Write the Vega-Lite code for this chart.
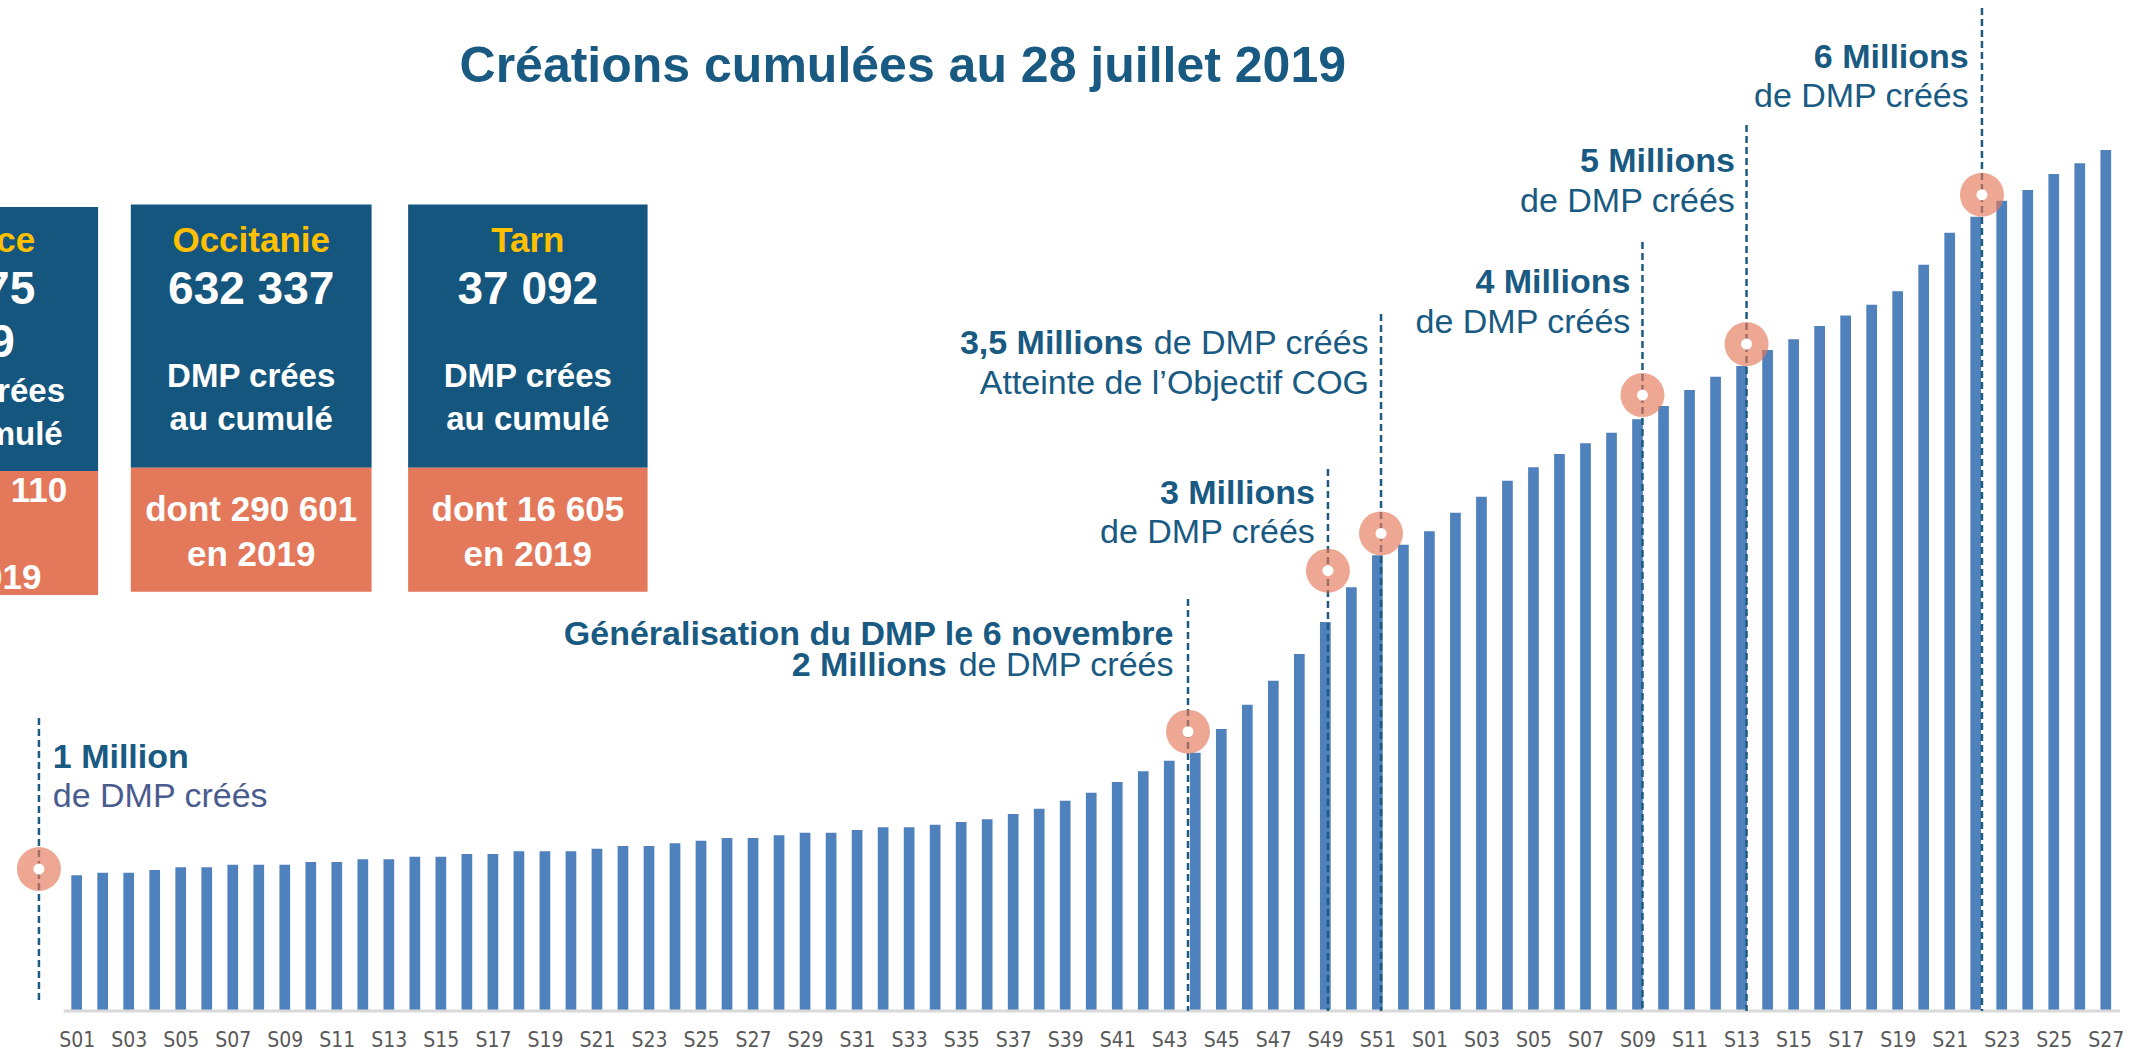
{
  "$schema": "https://vega.github.io/schema/vega-lite/v6.json",
  "width": 2131,
  "height": 1011,
  "autosize": "none",
  "padding": {"left": 0, "right": 0, "top": 0, "bottom": 42},
  "background": "#ffffff",
  "config": {"view": {"stroke": null}},
  "datasets": {
    "semaines": [
      {"x": 1, "y": 0.998, "annee": 2018}, {"x": 2, "y": 1.017, "annee": 2018}, {"x": 3, "y": 1.017, "annee": 2018}, {"x": 4, "y": 1.037, "annee": 2018},
      {"x": 5, "y": 1.057, "annee": 2018}, {"x": 6, "y": 1.057, "annee": 2018}, {"x": 7, "y": 1.076, "annee": 2018}, {"x": 8, "y": 1.076, "annee": 2018},
      {"x": 9, "y": 1.076, "annee": 2018}, {"x": 10, "y": 1.096, "annee": 2018}, {"x": 11, "y": 1.096, "annee": 2018}, {"x": 12, "y": 1.115, "annee": 2018},
      {"x": 13, "y": 1.115, "annee": 2018}, {"x": 14, "y": 1.135, "annee": 2018}, {"x": 15, "y": 1.135, "annee": 2018}, {"x": 16, "y": 1.154, "annee": 2018},
      {"x": 17, "y": 1.154, "annee": 2018}, {"x": 18, "y": 1.174, "annee": 2018}, {"x": 19, "y": 1.174, "annee": 2018}, {"x": 20, "y": 1.174, "annee": 2018},
      {"x": 21, "y": 1.193, "annee": 2018}, {"x": 22, "y": 1.213, "annee": 2018}, {"x": 23, "y": 1.213, "annee": 2018}, {"x": 24, "y": 1.233, "annee": 2018},
      {"x": 25, "y": 1.252, "annee": 2018}, {"x": 26, "y": 1.272, "annee": 2018}, {"x": 27, "y": 1.272, "annee": 2018}, {"x": 28, "y": 1.292, "annee": 2018},
      {"x": 29, "y": 1.311, "annee": 2018}, {"x": 30, "y": 1.311, "annee": 2018}, {"x": 31, "y": 1.331, "annee": 2018}, {"x": 32, "y": 1.351, "annee": 2018},
      {"x": 33, "y": 1.351, "annee": 2018}, {"x": 34, "y": 1.370, "annee": 2018}, {"x": 35, "y": 1.390, "annee": 2018}, {"x": 36, "y": 1.410, "annee": 2018},
      {"x": 37, "y": 1.449, "annee": 2018}, {"x": 38, "y": 1.488, "annee": 2018}, {"x": 39, "y": 1.546, "annee": 2018}, {"x": 40, "y": 1.605, "annee": 2018},
      {"x": 41, "y": 1.684, "annee": 2018}, {"x": 42, "y": 1.763, "annee": 2018}, {"x": 43, "y": 1.840, "annee": 2018}, {"x": 44, "y": 1.899, "annee": 2018},
      {"x": 45, "y": 2.074, "annee": 2018}, {"x": 46, "y": 2.252, "annee": 2018}, {"x": 47, "y": 2.429, "annee": 2018}, {"x": 48, "y": 2.625, "annee": 2018},
      {"x": 49, "y": 2.860, "annee": 2018}, {"x": 50, "y": 3.115, "annee": 2018}, {"x": 51, "y": 3.351, "annee": 2018}, {"x": 52, "y": 3.429, "annee": 2018},
      {"x": 53, "y": 3.527, "annee": 2019}, {"x": 54, "y": 3.664, "annee": 2019}, {"x": 55, "y": 3.782, "annee": 2019}, {"x": 56, "y": 3.899, "annee": 2019},
      {"x": 57, "y": 3.998, "annee": 2019}, {"x": 58, "y": 4.096, "annee": 2019}, {"x": 59, "y": 4.174, "annee": 2019}, {"x": 60, "y": 4.252, "annee": 2019},
      {"x": 61, "y": 4.351, "annee": 2019}, {"x": 62, "y": 4.449, "annee": 2019}, {"x": 63, "y": 4.566, "annee": 2019}, {"x": 64, "y": 4.664, "annee": 2019},
      {"x": 65, "y": 4.743, "annee": 2019}, {"x": 66, "y": 4.860, "annee": 2019}, {"x": 67, "y": 4.939, "annee": 2019}, {"x": 68, "y": 5.037, "annee": 2019},
      {"x": 69, "y": 5.115, "annee": 2019}, {"x": 70, "y": 5.193, "annee": 2019}, {"x": 71, "y": 5.292, "annee": 2019}, {"x": 72, "y": 5.488, "annee": 2019},
      {"x": 73, "y": 5.723, "annee": 2019}, {"x": 74, "y": 5.840, "annee": 2019}, {"x": 75, "y": 5.958, "annee": 2019}, {"x": 76, "y": 6.037, "annee": 2019},
      {"x": 77, "y": 6.154, "annee": 2019}, {"x": 78, "y": 6.233, "annee": 2019}, {"x": 79, "y": 6.331, "annee": 2019}
    ],
    "cadres": [
      {"cadre": "France", "x": -7.44, "x2": 1.823, "y": 3.971, "y2": 5.912},
      {"cadre": "Occitanie", "x": 3.081, "x2": 12.337, "y": 3.995, "y2": 5.93},
      {"cadre": "Tarn", "x": 13.741, "x2": 22.946, "y": 3.995, "y2": 5.93}
    ],
    "cadres2019": [
      {"cadre": "France", "x": -7.44, "x2": 1.823, "y": 3.059, "y2": 3.971},
      {"cadre": "Occitanie", "x": 3.081, "x2": 12.337, "y": 3.083, "y2": 3.995},
      {"cadre": "Tarn", "x": 13.741, "x2": 22.946, "y": 3.083, "y2": 3.995}
    ],
    "jalons": [
      {"jalon": "1 Million", "x": -0.45, "y": 2.154, "y2": 0.06, "ym": 1.044},
      {"jalon": "2 Millions", "x": 43.72, "y": 3.029, "y2": 0, "ym": 2.054},
      {"jalon": "3 Millions", "x": 49.1, "y": 3.985, "y2": 0, "ym": 3.238},
      {"jalon": "3,5 Millions", "x": 51.14, "y": 5.125, "y2": 0, "ym": 3.512},
      {"jalon": "4 Millions", "x": 61.19, "y": 5.654, "y2": 0, "ym": 4.529},
      {"jalon": "5 Millions", "x": 65.19, "y": 6.515, "y2": 0, "ym": 4.904},
      {"jalon": "6 Millions", "x": 74.24, "y": 7.375, "y2": 0, "ym": 6.002}
    ]
  },
  "encoding": {
    "x": {
      "field": "x",
      "type": "quantitative",
      "scale": {"domain": [-1.755, 79.777], "nice": false, "zero": false},
      "axis": {
        "values": [1, 3, 5, 7, 9, 11, 13, 15, 17, 19, 21, 23, 25, 27, 29, 31, 33, 35, 37, 39, 41, 43, 45, 47, 49, 51, 53, 55, 57, 59, 61, 63, 65, 67, 69, 71, 73, 75, 77, 79],
        "labelExpr": "'S' + ((datum.value > 52 ? datum.value - 52 : datum.value) < 10 ? '0' : '') + (datum.value > 52 ? datum.value - 52 : datum.value)",
        "title": null,
        "domain": false,
        "ticks": false,
        "grid": false,
        "labelAngle": 0,
        "labelFlush": false,
        "labelOverlap": false,
        "labelBound": false,
        "labelPadding": 18,
        "labelFont": "Liberation Sans Narrow, DejaVu Sans Condensed, sans-serif",
        "labelFontSize": 21,
        "labelColor": "#595959"
      }
    },
    "y": {
      "field": "y",
      "type": "quantitative",
      "scale": {"domain": [0, 7.434], "nice": false, "zero": false},
      "axis": null
    }
  },
  "layer": [
    {
      "data": {"name": "cadres"},
      "mark": {"type": "rect", "color": "#14567E"},
      "encoding": {"x2": {"field": "x2"}, "y2": {"field": "y2"}}
    },
    {
      "data": {"name": "cadres2019"},
      "mark": {"type": "rect", "color": "#E3795A"},
      "encoding": {"x2": {"field": "x2"}, "y2": {"field": "y2"}}
    },
    {
      "data": {"name": "semaines"},
      "mark": {"type": "bar", "orient": "vertical", "size": 10.7, "color": "#4F81BD"}
    },
    {
      "data": {"values": [{"x": 0.5, "x2": 79.55, "y": 0}]},
      "mark": {"type": "rule", "color": "#D9D9D9", "strokeWidth": 3},
      "encoding": {"x2": {"field": "x2"}}
    },
    {
      "data": {"name": "jalons"},
      "mark": {"type": "rule", "color": "#1D5B80", "strokeWidth": 2.5, "strokeDash": [7, 4]},
      "encoding": {"y2": {"field": "y2"}}
    },
    {
      "data": {"name": "jalons"},
      "mark": {"type": "point", "shape": "circle", "filled": true, "size": 1936, "color": "#E3795A", "opacity": 0.66},
      "encoding": {"y": {"field": "ym", "type": "quantitative"}}
    },
    {
      "data": {"name": "jalons"},
      "mark": {"type": "point", "shape": "circle", "filled": true, "size": 121, "color": "#ffffff", "opacity": 1},
      "encoding": {"y": {"field": "ym", "type": "quantitative"}}
    },
    {
      "data": {"values": [{"x": 32.756, "y": 6.831, "t": "Créations cumulées au 28 juillet 2019"}]},
      "mark": {"type": "text", "font": "Liberation Sans", "fontWeight": "bold", "fontSize": 50, "color": "#195A82", "align": "center", "baseline": "alphabetic"},
      "encoding": {"text": {"field": "t"}}
    },
    {
      "data": {"values": [
        {"x": 43.163, "y": 2.691, "t": "Généralisation du DMP le 6 novembre"},
        {"x": 34.44, "y": 2.463, "t": "2 Millions"},
        {"x": 48.596, "y": 3.728, "t": "3 Millions"},
        {"x": 41.996, "y": 4.831, "t": "3,5 Millions"},
        {"x": 60.724, "y": 5.279, "t": "4 Millions"},
        {"x": 64.741, "y": 6.169, "t": "5 Millions"},
        {"x": 73.733, "y": 6.934, "t": "6 Millions"}
      ]},
      "mark": {"type": "text", "font": "Liberation Sans", "fontWeight": "bold", "fontSize": 34, "color": "#195A82", "align": "right", "baseline": "alphabetic"},
      "encoding": {"text": {"field": "t"}}
    },
    {
      "data": {"values": [
        {"x": 43.163, "y": 2.463, "t": "de DMP créés"},
        {"x": 48.596, "y": 3.441, "t": "de DMP créés"},
        {"x": 50.661, "y": 4.831, "t": "de DMP créés"},
        {"x": 50.68, "y": 4.537, "t": "Atteinte de l’Objectif COG"},
        {"x": 60.724, "y": 4.985, "t": "de DMP créés"},
        {"x": 64.741, "y": 5.875, "t": "de DMP créés"},
        {"x": 73.733, "y": 6.647, "t": "de DMP créés"}
      ]},
      "mark": {"type": "text", "font": "Liberation Sans", "fontWeight": "normal", "fontSize": 34, "color": "#195A82", "align": "right", "baseline": "alphabetic"},
      "encoding": {"text": {"field": "t"}}
    },
    {
      "data": {"values": [{"x": 0.082, "y": 1.787, "t": "1 Million"}]},
      "mark": {"type": "text", "font": "Liberation Sans", "fontWeight": "bold", "fontSize": 34, "color": "#195A82", "align": "left", "baseline": "alphabetic"},
      "encoding": {"text": {"field": "t"}}
    },
    {
      "data": {"values": [{"x": 0.082, "y": 1.5, "t": "de DMP créés"}]},
      "mark": {"type": "text", "font": "Liberation Sans", "fontWeight": "normal", "fontSize": 34, "color": "#4A5C8E", "align": "left", "baseline": "alphabetic"},
      "encoding": {"text": {"field": "t"}}
    },
    {
      "data": {"values": [{"x": 7.709, "y": 5.581, "t": "Occitanie"}, {"x": 18.343, "y": 5.581, "t": "Tarn"}]},
      "mark": {"type": "text", "font": "Liberation Sans", "fontWeight": "bold", "fontSize": 35, "color": "#FFC000", "align": "center", "baseline": "alphabetic"},
      "encoding": {"text": {"field": "t"}}
    },
    {
      "data": {"values": [{"x": 7.709, "y": 5.202, "t": "632 337"}, {"x": 18.343, "y": 5.202, "t": "37 092"}]},
      "mark": {"type": "text", "font": "Liberation Sans", "fontWeight": "bold", "fontSize": 46, "color": "#ffffff", "align": "center", "baseline": "alphabetic"},
      "encoding": {"text": {"field": "t"}}
    },
    {
      "data": {"values": [
        {"x": 7.709, "y": 4.588, "t": "DMP crées"}, {"x": 7.709, "y": 4.272, "t": "au cumulé"},
        {"x": 18.343, "y": 4.588, "t": "DMP crées"}, {"x": 18.343, "y": 4.272, "t": "au cumulé"}
      ]},
      "mark": {"type": "text", "font": "Liberation Sans", "fontWeight": "bold", "fontSize": 33, "color": "#ffffff", "align": "center", "baseline": "alphabetic"},
      "encoding": {"text": {"field": "t"}}
    },
    {
      "data": {"values": [
        {"x": 7.709, "y": 3.603, "t": "dont 290 601"}, {"x": 7.709, "y": 3.272, "t": "en 2019"},
        {"x": 18.343, "y": 3.603, "t": "dont 16 605"}, {"x": 18.343, "y": 3.272, "t": "en 2019"}
      ]},
      "mark": {"type": "text", "font": "Liberation Sans", "fontWeight": "bold", "fontSize": 35, "color": "#ffffff", "align": "center", "baseline": "alphabetic"},
      "encoding": {"text": {"field": "t"}}
    },
    {
      "data": {"values": [{"x": -0.592, "y": 5.581, "t": "France"}]},
      "mark": {"type": "text", "font": "Liberation Sans", "fontWeight": "bold", "fontSize": 35, "color": "#FFC000", "align": "right", "baseline": "alphabetic"},
      "encoding": {"text": {"field": "t"}}
    },
    {
      "data": {"values": [{"x": -0.592, "y": 5.199, "t": "6 375"}, {"x": -1.38, "y": 4.809, "t": "…9"}]},
      "mark": {"type": "text", "font": "Liberation Sans", "fontWeight": "bold", "fontSize": 46, "color": "#ffffff", "align": "right", "baseline": "alphabetic"},
      "encoding": {"text": {"field": "t"}}
    },
    {
      "data": {"values": [{"x": 0.552, "y": 4.478, "t": "DMP crées"}, {"x": 0.464, "y": 4.162, "t": "au cumulé"}]},
      "mark": {"type": "text", "font": "Liberation Sans", "fontWeight": "bold", "fontSize": 33, "color": "#ffffff", "align": "right", "baseline": "alphabetic"},
      "encoding": {"text": {"field": "t"}}
    },
    {
      "data": {"values": [{"x": 0.637, "y": 3.743, "t": "dont … 110"}, {"x": -0.354, "y": 3.103, "t": "en 2019"}]},
      "mark": {"type": "text", "font": "Liberation Sans", "fontWeight": "bold", "fontSize": 35, "color": "#ffffff", "align": "right", "baseline": "alphabetic"},
      "encoding": {"text": {"field": "t"}}
    }
  ]
}
